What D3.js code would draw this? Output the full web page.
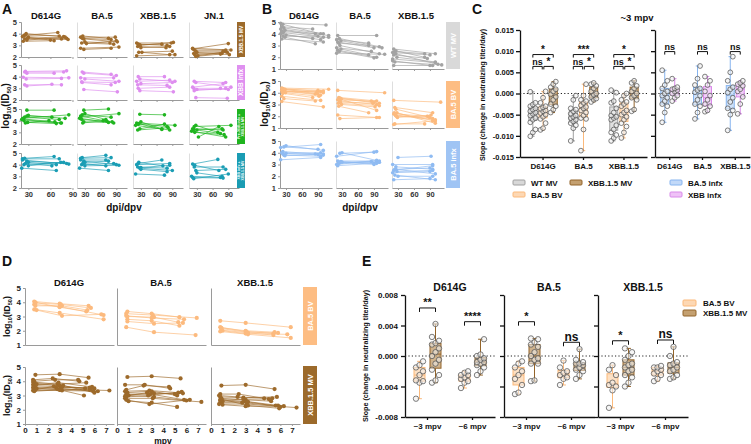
<!DOCTYPE html>
<html><head><meta charset="utf-8">
<script src="https://cdn.jsdelivr.net/npm/d3@7"></script>
<style>
body{margin:0;background:#fff}
svg{display:block}
text{font-family:"Liberation Sans",Arial,Helvetica,sans-serif;font-weight:bold}
</style>
</head><body>
<svg id="fig" width="751" height="444"></svg>
<script>
// ---------------- DATA ----------------
// Panel A: lines [dpi1, log10ID50_1, dpi2, log10ID50_2], per column (D614G, BA.5, XBB.1.5, JN.1)
const A_COLS = ["D614G", "BA.5", "XBB.1.5", "JN.1"];
const A_GROUPS = [["XBB.1.5 MV"], ["XBB infx"], ["Pre-XBB infx +", "XBB.1.5 MV"], ["XBB infx +", "XBB.1.5 MV"]];
const A_XBBMV = [
  [[24,3.85,70,4.1],[27,4.0,78,3.75],[22,3.75,82,3.6],[30,3.7,60,3.45],[25,3.55,75,3.55],[28,3.45,80,3.7],[23,3.35,65,3.4],[26,3.9,72,3.8],[29,3.6,84,3.5]],
  [[22,3.7,88,3.7],[25,3.6,80,3.5],[28,3.55,92,3.3],[30,3.3,78,3.2],[24,3.2,85,3.1],[33,3.15,90,3.4],[22,2.75,95,2.85],[28,2.65,80,2.75],[26,3.8,75,3.6]],
  [[22,3.2,88,3.2],[25,3.1,80,3.0],[28,3.0,92,3.25],[30,2.8,85,2.9],[24,2.9,78,2.8],[26,2.4,90,2.5],[32,2.4,85,2.2],[22,2.1,95,2.2],[28,3.05,70,3.1]],
  [[22,2.7,90,3.15],[25,2.6,85,2.6],[28,2.5,80,2.5],[30,2.4,92,2.2],[24,2.3,88,2.4],[26,2.2,78,2.3],[32,2.1,85,2.45],[22,2.75,95,2.6],[28,2.05,75,2.25]]
];
const A_XBBINF = [
  [[25,4.4,78,4.4],[28,4.3,65,4.3],[23,3.95,85,3.9],[27,3.8,75,3.85],[25,3.3,75,3.3],[28,3.2,62,3.35],[26,4.45,82,4.5]],
  [[25,4.4,80,4.2],[28,4.3,90,4.1],[22,3.9,85,3.9],[30,3.8,95,3.6],[25,3.5,80,3.3],[28,2.9,92,2.7],[24,3.55,88,3.5]],
  [[25,4.0,75,4.0],[28,3.8,95,3.6],[22,3.6,85,3.7],[30,3.4,90,3.5],[25,3.0,85,3.1],[28,2.8,92,2.7],[24,3.3,80,3.25]],
  [[25,3.6,85,3.5],[28,3.5,95,3.1],[22,3.1,80,3.4],[30,2.9,90,2.9],[25,2.8,85,3.0],[28,2.2,88,2.15],[24,3.0,75,3.0]]
];
const A_PREXBB = [
  [[28,4.9,65,4.9],[23,4.2,85,4.5],[25,4.3,72,4.1],[28,4.4,62,4.3],[21,4.1,75,3.8],[29,3.85,68,3.75],[24,4.0,74,3.8],[26,3.8,58,4.0],[22,4.15,66,3.9],[30,4.45,80,4.2]],
  [[28,4.9,75,5.0],[22,4.3,95,4.6],[25,4.5,80,4.3],[30,4.6,70,4.1],[20,4.2,85,3.8],[28,3.9,75,3.85],[24,4.1,82,3.9],[26,3.8,65,4.0],[22,4.4,72,3.95]],
  [[28,4.55,75,4.5],[22,3.8,95,3.6],[25,3.7,80,3.5],[30,3.9,70,3.3],[20,3.6,85,3.2],[28,3.3,75,3.7],[24,3.2,82,3.4],[26,3.75,70,3.25]],
  [[25,3.5,95,3.6],[22,3.3,80,3.2],[28,3.6,70,3.0],[30,3.2,75,2.9],[20,3.1,85,2.6],[33,2.6,72,3.5],[24,3.25,78,3.3],[26,3.0,82,2.8]]
];
const A_XBBINF_MV = [
  [[25,4.55,65,4.7],[22,4.5,72,4.5],[28,4.3,82,4.1],[30,4.2,68,4.0],[21,3.7,68,3.5],[24,4.0,78,4.2],[26,4.1,62,3.9],[30,3.9,74,4.2],[22,4.4,85,4.05]],
  [[25,4.6,70,4.8],[22,4.55,80,4.6],[28,4.3,90,4.0],[30,4.2,75,4.3],[20,3.7,75,3.5],[24,4.0,85,4.1],[26,4.1,70,3.9],[30,3.9,95,3.95],[22,4.4,70,4.4]],
  [[25,4.1,70,4.4],[22,4.0,85,4.1],[28,3.7,90,3.5],[30,3.6,80,3.4],[20,3.2,75,3.1],[24,3.8,80,3.7],[26,4.2,72,3.9],[30,3.75,85,3.95]],
  [[22,4.05,70,4.45],[25,3.8,80,3.8],[28,3.5,85,3.6],[30,3.3,78,3.0],[20,3.0,75,2.9],[24,2.8,90,3.2],[26,3.95,72,3.5],[22,2.9,80,2.85]]
];
const A_Y_TICKS = [2, 3, 4, 5];
const X_DAY_TICKS = [30, 60, 90];

// Panel B
const B_COLS = ["D614G", "BA.5", "XBB.1.5"];
const B_GROUPS = ["WT MV", "BA.5 BV", "BA.5 infx"];
const B_WTMV = [
  [[20,4.9,105,4.75],[24,4.8,95,4.0],[22,4.6,80,4.4],[26,4.5,100,4.0],[20,4.4,110,3.85],[28,4.3,90,3.8],[22,4.2,85,4.0],[25,4.1,100,3.7],[20,4.0,80,3.6],[30,3.9,95,3.5],[24,3.8,110,3.7],[22,3.55,100,3.3],[28,3.7,85,3.15]],
  [[22,3.85,95,3.85],[25,3.6,100,2.9],[20,3.5,80,3.2],[28,3.4,105,2.8],[22,3.3,90,2.8],[24,3.2,80,3.0],[26,3.0,100,2.3],[20,2.8,85,2.5],[22,2.6,95,2.0],[25,2.5,90,1.95],[20,2.35,110,2.25],[28,2.7,80,2.2]],
  [[22,2.7,100,2.3],[24,2.5,80,2.3],[20,2.4,90,2.2],[26,2.3,105,1.4],[22,2.2,85,1.9],[28,2.0,100,1.6],[20,1.7,90,1.3],[24,1.6,112,1.35],[22,1.3,95,1.3],[26,2.55,80,2.0],[20,1.85,100,1.55]]
];
const B_BA5BV = [
  [[22,4.4,110,4.3],[24,4.35,95,4.1],[26,4.3,90,4.2],[28,4.25,100,4.0],[22,4.2,85,3.9],[25,4.15,95,3.8],[27,4.1,88,4.05],[23,4.05,100,4.15],[29,4.0,92,3.7],[24,3.95,80,3.6],[22,3.7,95,3.35],[26,3.5,85,3.3],[22,3.25,100,2.8],[28,4.3,90,3.9]],
  [[22,4.2,110,4.0],[24,3.6,95,3.3],[26,3.55,90,3.2],[28,3.5,100,3.1],[22,3.4,85,3.3],[25,3.3,95,3.0],[27,3.2,88,3.1],[23,3.1,100,2.9],[29,3.0,92,2.8],[24,2.85,80,2.3],[22,2.1,95,1.9],[26,1.8,100,1.9],[28,3.45,95,2.5]],
  [[22,3.35,110,3.2],[24,2.75,95,2.3],[26,2.6,90,1.9],[28,2.3,100,1.4],[22,2.2,85,2.0],[25,2.1,95,1.8],[27,2.0,88,1.95],[23,2.3,100,1.6],[29,1.9,92,2.1],[24,1.35,80,1.35],[22,1.3,95,1.6],[26,2.05,100,1.7]]
];
const B_BA5INF = [
  [[20,4.45,95,4.7],[26,4.5,90,4.3],[30,4.6,100,4.2],[22,4.0,95,4.0],[24,3.9,100,3.9],[26,3.8,95,3.7],[28,3.75,90,3.85],[24,4.1,85,3.9],[20,3.4,95,3.6],[30,3.95,100,3.8]],
  [[20,3.7,95,4.1],[26,3.95,90,4.05],[30,4.0,100,3.3],[22,3.3,95,3.3],[24,3.2,100,3.2],[26,3.15,95,3.1],[28,3.25,90,3.0],[24,3.1,85,3.25],[20,3.0,95,3.35],[30,3.2,100,3.2],[22,2.9,90,3.1]],
  [[30,3.6,92,3.7],[20,3.0,95,3.0],[26,2.6,90,2.7],[22,2.5,95,2.9],[24,2.6,100,2.2],[28,2.4,95,2.5],[20,2.3,90,2.4],[24,2.1,100,1.7],[30,2.0,95,2.0],[22,1.7,90,1.8],[26,2.8,95,2.6]]
];
const B_Y_TICKS = [1, 2, 3, 4, 5];

// Panel C: slopes (change in neutralizing titer/day), ~3 mpv
const C_CATS = ["D614G", "BA.5", "XBB.1.5"];
const C_LEFT_GROUPS = ["WT MV", "BA.5 BV", "XBB.1.5 MV"];
const C_RIGHT_GROUPS = ["BA.5 infx", "XBB infx"];
const C_WT = [
  [0.0004,-0.0022,-0.0026,-0.0030,-0.0035,-0.0038,-0.0042,-0.0045,-0.0048,-0.0052,-0.0058,-0.0062,-0.0068,-0.0085,-0.0092,-0.0101],
  [-0.0005,-0.0015,-0.0035,-0.0038,-0.0042,-0.0048,-0.0052,-0.0055,-0.0058,-0.0062,-0.0066,-0.0070,-0.0075,-0.0082,-0.0112],
  [0.0008,0.0002,-0.0018,-0.0022,-0.0035,-0.0045,-0.0052,-0.0055,-0.0058,-0.0062,-0.0075,-0.0085,-0.0092,-0.0098,-0.0105,-0.0112]
];
const C_BV = [
  [0.0005,-0.0010,-0.0022,-0.0030,-0.0033,-0.0036,-0.0040,-0.0042,-0.0046,-0.0050,-0.0055,-0.0060,-0.0070,-0.0082,-0.0086],
  [0.0022,-0.0005,-0.0015,-0.0018,-0.0022,-0.0028,-0.0032,-0.0035,-0.0040,-0.0045,-0.0052,-0.0058,-0.0060,-0.0085,-0.0135],
  [0.0000,-0.0005,-0.0015,-0.0020,-0.0025,-0.0030,-0.0040,-0.0045,-0.0050,-0.0055,-0.0062,-0.0070,-0.0078,-0.0092,-0.0105]
];
const C_MV = [
  [0.0028,0.0022,0.0015,0.0010,0.0005,-0.0002,-0.0008,-0.0015,-0.0025,-0.0030,-0.0038,-0.0045],
  [0.0025,0.0022,0.0018,0.0012,0.0005,0.0000,-0.0003,-0.0008,-0.0012,-0.0015,-0.0020],
  [0.0030,0.0025,0.0018,0.0012,0.0005,0.0000,-0.0005,-0.0010,-0.0015,-0.0038,-0.0042]
];
const C_BA5INF = [
  [0.0055,0.0030,0.0020,0.0012,0.0005,0.0000,-0.0005,-0.0010,-0.0018,-0.0025,-0.0030,-0.0045,-0.0068],
  [0.0065,0.0035,0.0020,0.0012,0.0008,0.0003,-0.0005,-0.0015,-0.0025,-0.0030,-0.0045,-0.0060],
  [0.0087,0.0050,0.0030,0.0015,0.0010,0.0002,-0.0010,-0.0020,-0.0035,-0.0040,-0.0050,-0.0087]
];
const C_XBBINF = [
  [0.0035,0.0015,0.0012,0.0010,0.0008,0.0005,0.0000,-0.0005,-0.0010,-0.0018],
  [0.0040,0.0030,0.0020,0.0005,-0.0005,-0.0015,-0.0025,-0.0030,-0.0040,-0.0043],
  [0.0030,0.0025,0.0022,0.0018,0.0010,0.0005,-0.0008,-0.0025,-0.0048]
];
const C_Y_TICKS = [-0.015, -0.010, -0.005, 0, 0.005, 0.010, 0.015];
const C_SIG_TOP = ["*", "***", "*"];
const C_SIG_LOW = [["ns", "*"], ["ns", "*"], ["ns", "*"]];
const C_SIG_RIGHT = ["ns", "ns", "ns"];

// Panel D: [mpv, log10ID50] per subject
const D_COLS = ["D614G", "BA.5", "XBB.1.5"];
const D_GROUPS = ["BA.5 BV", "XBB.1.5 MV"];
const D_BA5BV = [
  [[[0.8,4.05],[3.0,3.9],[5.5,3.75]],[[0.9,3.95],[3.1,3.85],[5.7,3.6]],[[0.8,3.85],[3.0,3.7],[6.8,3.1]],[[0.9,3.75],[3.2,3.75],[5.4,3.45]],[[0.8,3.5],[3.0,3.25],[6.8,2.8]],[[1.0,3.45],[3.2,3.05],[6.6,3.15]],[[0.9,4.0],[3.0,3.65],[5.3,3.35]]],
  [[[0.9,3.35],[3.0,3.2],[5.4,2.95]],[[0.8,3.2],[3.1,3.1],[6.9,2.9]],[[0.8,3.05],[3.0,2.9],[5.8,2.8]],[[0.9,3.0],[3.2,2.95],[5.3,2.6]],[[0.9,2.8],[3.0,2.7],[5.4,2.35]],[[0.9,2.65],[3.2,2.5],[5.7,2.55]],[[0.8,2.25],[3.2,1.9],[6.8,1.7]]],
  [[[0.8,2.7],[3.0,2.55],[6.9,2.25]],[[0.8,2.25],[3.0,1.95],[5.4,1.8]],[[0.9,2.15],[3.1,1.9],[5.8,1.85]],[[0.9,2.05],[3.2,1.85],[5.4,1.7]],[[1.0,2.0],[3.0,1.8],[6.6,1.75]],[[0.8,1.95],[3.2,1.75],[6.9,1.5]],[[0.9,2.2],[3.0,2.0],[5.5,1.9]]]
];
const D_XBBMV = [
  [[[0.9,4.45],[3.0,4.5],[5.5,4.25]],[[0.7,4.1],[2.4,4.2],[4.7,4.0]],[[0.8,4.0],[2.6,4.1],[4.6,4.1]],[[0.7,3.95],[2.8,3.8],[5.3,3.9]],[[0.8,3.85],[3.0,3.7],[5.2,3.5]],[[0.7,3.75],[2.9,3.9],[5.8,3.6]],[[0.9,3.7],[3.2,3.6],[6.0,3.5]],[[0.8,3.6],[2.7,3.55],[5.6,3.55]],[[0.7,3.55],[3.1,3.5],[5.9,3.3]],[[1.0,3.5],[3.0,3.4],[5.1,3.0]],[[0.8,3.45],[2.8,3.45],[7.3,3.35]],[[0.7,3.35],[3.2,3.35],[6.3,3.3]],[[0.9,3.4],[2.5,3.65],[5.7,3.45]],[[1.0,3.8],[3.3,3.7],[6.0,3.2]],[[0.8,3.3],[3.0,3.4],[5.6,3.4]]],
  [[[0.9,4.3],[3.0,4.35],[5.5,4.2]],[[0.7,3.75],[2.4,3.75],[4.6,3.5]],[[0.8,3.4],[2.3,3.7],[4.5,3.6]],[[0.7,3.3],[2.8,3.35],[5.3,3.2]],[[0.9,3.2],[3.0,3.3],[5.2,3.0]],[[0.8,3.1],[2.9,3.1],[5.8,2.7]],[[1.0,3.0],[3.2,2.9],[6.0,2.65]],[[0.8,2.9],[2.7,3.0],[5.6,3.25]],[[0.7,2.8],[3.1,2.8],[7.3,2.55]],[[1.0,2.6],[3.0,2.5],[5.2,2.2]],[[0.8,2.7],[2.8,2.4],[6.3,2.7]],[[0.9,3.05],[3.2,3.15],[5.7,3.15]],[[0.7,2.95],[2.6,3.2],[5.0,3.1]]],
  [[[0.9,3.7],[3.0,3.75],[5.5,3.45]],[[0.8,3.1],[2.4,3.1],[4.6,2.8]],[[0.7,3.0],[2.3,2.9],[5.3,2.8]],[[0.8,2.9],[2.8,2.85],[5.7,2.9]],[[0.9,2.8],[3.0,2.7],[5.2,2.6]],[[0.8,2.7],[2.9,2.6],[5.8,2.3]],[[1.0,2.6],[3.2,2.55],[6.0,2.2]],[[0.8,2.5],[2.7,2.5],[5.6,2.3]],[[0.7,2.4],[3.1,2.4],[7.4,2.15]],[[1.0,2.35],[3.0,2.25],[6.3,2.25]],[[0.8,2.65],[2.8,2.75],[5.0,2.75]],[[0.9,2.75],[3.2,2.3],[5.9,2.1]]]
];
const D_X_TICKS = [0, 1, 2, 3, 4, 5, 6, 7];

// Panel E: slopes per variant [D614G, BA.5, XBB.1.5]
const E_CATS = ["D614G", "BA.5", "XBB.1.5"];
const E_TIMES = ["~3 mpv", "~6 mpv"];
const E_GROUPS = ["BA.5 BV", "XBB.1.5 MV"];
const E_BV_3 = [
  [-0.0007,-0.0012,-0.0015,-0.0020,-0.0025,-0.0032,-0.0033,-0.0035,-0.0056],
  [-0.0007,-0.0010,-0.0015,-0.0020,-0.0025,-0.0030,-0.0038,-0.0048,-0.0050],
  [-0.0012,-0.0018,-0.0025,-0.0035,-0.0038,-0.0040,-0.0045,-0.0068]
];
const E_MV_3 = [
  [0.0042,0.0025,0.0020,0.0017,0.0015,0.0010,0.0005,0.0000,-0.0005,-0.0010,-0.0018,-0.0025,-0.0032,-0.0035],
  [0.0023,0.0022,0.0018,0.0015,0.0012,0.0005,0.0000,-0.0003,-0.0005,-0.0010,-0.0010,-0.0032,-0.0033],
  [0.0010,0.0005,0.0000,-0.0005,-0.0010,-0.0012,-0.0015,-0.0018,-0.0020,-0.0025,-0.0028,-0.0035,-0.0040]
];
const E_BV_6 = [
  [-0.0020,-0.0022,-0.0025,-0.0025,-0.0028,-0.0030,-0.0033,-0.0035,-0.0042],
  [-0.0006,-0.0015,-0.0020,-0.0022,-0.0025,-0.0028,-0.0030,-0.0038],
  [-0.0013,-0.0015,-0.0015,-0.0018,-0.0020,-0.0023,-0.0025,-0.0030,-0.0033]
];
const E_MV_6 = [
  [0.0022,0.0002,0.0000,-0.0003,-0.0005,-0.0008,-0.0008,-0.0010,-0.0012,-0.0015,-0.0020,-0.0025],
  [0.0009,-0.0005,-0.0008,-0.0010,-0.0010,-0.0012,-0.0015,-0.0018,-0.0020,-0.0025,-0.0030],
  [0.0012,0.0000,-0.0008,-0.0010,-0.0012,-0.0015,-0.0018,-0.0020,-0.0025,-0.0028,-0.0030]
];
const E_Y_TICKS = [-0.008, -0.004, 0, 0.004, 0.008];
const E_SIG = [["**", "****"], ["*", "ns"], ["*", "ns"]];

// ---------------- STYLE / LAYOUT ----------------
const COL = {
  brown: "#a06c2c", pink: "#de8eef", green: "#20b520", teal: "#1a9db4",
  grey: "#a3a3a3", orange: "#fcba7e", blue: "#8fbbf2"
};
const svg = d3.select("#fig");

function styleAxis(sel, line, txt, size, width) {
  sel.selectAll(".domain").attr("stroke", line).attr("stroke-width", width || 1);
  sel.selectAll(".tick line").attr("stroke", line).attr("stroke-width", width || 1);
  sel.selectAll(".tick text").attr("fill", txt).attr("font-size", size)
    .attr("font-weight", "bold").attr("font-family", '"Liberation Sans",Arial,sans-serif');
}
function label(x, y, s, size, anchor, opts) {
  const t = svg.append("text").attr("x", x).attr("y", y).attr("font-size", size)
    .attr("text-anchor", anchor || "middle").attr("fill", (opts && opts.fill) || "#111").text(s);
  if (opts && opts.weight) t.attr("font-weight", opts.weight);
  return t;
}
function logLabel(x, y, size) {
  const t = svg.append("text").attr("transform", `translate(${x},${y}) rotate(-90)`)
    .attr("text-anchor", "middle").attr("font-size", size).attr("fill", "#111");
  t.append("tspan").text("log");
  t.append("tspan").attr("font-size", size * 0.62).attr("dy", size * 0.22).text("10");
  t.append("tspan").attr("dy", -size * 0.22).text("(ID");
  t.append("tspan").attr("font-size", size * 0.62).attr("dy", size * 0.22).text("50");
  t.append("tspan").attr("dy", -size * 0.22).text(")");
}
function vLabel(x, y, s, size) {
  svg.append("text").attr("transform", `translate(${x},${y}) rotate(-90)`)
    .attr("text-anchor", "middle").attr("font-size", size).attr("fill", "#111").text(s);
}
function strip(x, y, w, h, color, lines, size) {
  svg.append("rect").attr("x", x).attr("y", y).attr("width", w).attr("height", h).attr("fill", color);
  const t = svg.append("text").attr("transform", `translate(${x + w / 2},${y + h / 2}) rotate(-90)`)
    .attr("text-anchor", "middle").attr("fill", "#fff").attr("font-size", size);
  const lh = size * 1.15;
  lines.forEach((s, i) => t.append("tspan").attr("x", 0)
    .attr("dy", i === 0 ? (-(lines.length - 1) / 2 * lh + size * 0.36) : lh).text(s));
}
function pairPanel(lines, xs, ys, color, r) {
  const g = svg.append("g");
  lines.forEach(l => {
    const pts = Array.isArray(l[0]) ? l : [[l[0], l[1]], [l[2], l[3]]];
    g.append("path").attr("d", d3.line().x(p => xs(p[0])).y(p => ys(p[1]))(pts))
      .attr("fill", "none").attr("stroke", color).attr("stroke-width", 0.9).attr("stroke-opacity", 0.75);
    g.selectAll(null).data(pts).enter().append("circle")
      .attr("cx", p => xs(p[0])).attr("cy", p => ys(p[1])).attr("r", r).attr("fill", color);
  });
}

// ---------------- PANEL A ----------------
label(2, 14, "A", 14, "start");
const A_DATA = [A_XBBMV, A_XBBINF, A_PREXBB, A_XBBINF_MV];
const A_COLORS = [COL.brown, COL.pink, COL.green, COL.teal];
const A_STRIP_COLORS = ["#9c6a2b", "#df90f0", "#1fb41f", "#1a9cb3"];
const A_STRIP_SIZE = [5, 6.5, 3.6, 3.6];
const A_X0 = [21, 77, 133, 189], A_W = 50, A_Y0 = [22, 65, 109, 153], A_H = 35;
A_COLS.forEach((c, j) => label(A_X0[j] + 25, 19, c, 9.5));
A_DATA.forEach((rowData, i) => {
  const ys = d3.scaleLinear().domain([2, 5]).range([A_Y0[i] + A_H, A_Y0[i]]);
  rowData.forEach((lines, j) => {
    const x0 = A_X0[j];
    const xs = j === 0 ? d3.scaleLinear().domain([20, 88]).range([x0, x0 + A_W])
                       : d3.scaleLinear().domain([15, 110.4]).range([x0, x0 + A_W]);
    const ya = svg.append("g").attr("transform", `translate(${x0},0)`)
      .call(d3.axisLeft(ys).tickValues(A_Y_TICKS).tickSize(j === 0 ? 2 : 0).tickPadding(2)
        .tickFormat(j === 0 ? d3.format("d") : ""));
    styleAxis(ya, j === 0 ? "#9a9a9a" : "#dedede", "#333", 7.5);
    const xa = svg.append("g").attr("transform", `translate(0,${A_Y0[i] + A_H})`)
      .call(d3.axisBottom(xs).tickValues(X_DAY_TICKS).tickSize(2).tickSizeOuter(0).tickPadding(2)
        .tickFormat(i === 3 ? d3.format("d") : ""));
    styleAxis(xa, "#9a9a9a", "#333", 7.5);
    pairPanel(lines, xs, ys, A_COLORS[i], 1.8);
  });
  strip(237, A_Y0[i], 8, A_H, A_STRIP_COLORS[i], A_GROUPS[i], A_STRIP_SIZE[i]);
});
logLabel(9, 106, 10);
label(124, 211, "dpi/dpv", 10);

// ---------------- PANEL B ----------------
label(262, 14, "B", 14, "start");
const B_DATA = [B_WTMV, B_BA5BV, B_BA5INF];
const B_COLORS = [COL.grey, COL.orange, COL.blue];
const B_STRIP_COLORS = ["#d9d9d9", "#fdbd83", "#9fc4f4"];
const B_X0 = [280, 336, 392], B_W = 52, B_Y0 = [22, 81, 141], B_H = 47;
B_COLS.forEach((c, j) => label(B_X0[j] + 24, 19, c, 9.5));
B_DATA.forEach((rowData, i) => {
  const ys = d3.scaleLinear().domain([1, 5]).range([B_Y0[i] + B_H, B_Y0[i]]);
  rowData.forEach((lines, j) => {
    const x0 = B_X0[j];
    const xs = d3.scaleLinear().domain([18.75, 116.3]).range([x0, x0 + B_W]);
    const ya = svg.append("g").attr("transform", `translate(${x0},0)`)
      .call(d3.axisLeft(ys).tickValues(B_Y_TICKS).tickSize(j === 0 ? 2 : 0).tickPadding(2)
        .tickFormat(j === 0 ? d3.format("d") : ""));
    styleAxis(ya, j === 0 ? "#9a9a9a" : "#dedede", "#333", 7.5);
    const xa = svg.append("g").attr("transform", `translate(0,${B_Y0[i] + B_H})`)
      .call(d3.axisBottom(xs).tickValues(X_DAY_TICKS).tickSize(2).tickSizeOuter(0).tickPadding(2)
        .tickFormat(i === 2 ? d3.format("d") : ""));
    styleAxis(xa, "#9a9a9a", "#333", 7.5);
    pairPanel(lines, xs, ys, B_COLORS[i], 1.8);
  });
  strip(446, B_Y0[i], 14, B_H, B_STRIP_COLORS[i], [B_GROUPS[i]], 7.5);
});
logLabel(268, 104, 10);
label(360, 211, "dpi/dpv", 10);

// ---------------- box plot helper ----------------
function boxGroup(vals, cx, bw, ys, stroke, fill, r) {
  const s = vals.slice().sort(d3.ascending);
  const q1 = d3.quantile(s, 0.25), q3 = d3.quantile(s, 0.75), med = d3.quantile(s, 0.5);
  const mn = s[0], mx = s[s.length - 1];
  const g = svg.append("g");
  g.append("line").attr("x1", cx).attr("x2", cx).attr("y1", ys(mx)).attr("y2", ys(q3)).attr("stroke", stroke).attr("stroke-width", 1);
  g.append("line").attr("x1", cx).attr("x2", cx).attr("y1", ys(q1)).attr("y2", ys(mn)).attr("stroke", stroke).attr("stroke-width", 1);
  [mn, mx].forEach(v => g.append("line").attr("x1", cx - bw * 0.22).attr("x2", cx + bw * 0.22)
    .attr("y1", ys(v)).attr("y2", ys(v)).attr("stroke", stroke).attr("stroke-width", 1));
  g.append("rect").attr("x", cx - bw / 2).attr("y", ys(q3)).attr("width", bw).attr("height", ys(q1) - ys(q3))
    .attr("fill", fill).attr("fill-opacity", 0.8).attr("stroke", stroke).attr("stroke-width", 1);
  g.append("line").attr("x1", cx - bw / 2).attr("x2", cx + bw / 2).attr("y1", ys(med)).attr("y2", ys(med))
    .attr("stroke", stroke).attr("stroke-width", 1);
  s.forEach((v, k) => {
    const off = ((k % 3) - 1) * bw * 0.32;
    g.append("circle").attr("cx", cx + off).attr("cy", ys(v)).attr("r", r)
      .attr("fill", "#eeeeee").attr("fill-opacity", 0.55).attr("stroke", "#555").attr("stroke-width", 0.75);
  });
}
function bracket(x1, x2, y, txt, size, drop, weight) {
  svg.append("path").attr("d", `M${x1},${y + drop}V${y}H${x2}V${y + drop}`)
    .attr("fill", "none").attr("stroke", "#111").attr("stroke-width", 1);
  const t = label((x1 + x2) / 2, y - 1.5, txt, size);
  t.attr("font-weight", weight || "normal");
}
const BOX_FILL = { grey: "#d8d8d8", orange: "#fdd8b4", brown: "#c4a070", blue: "#c2d9f8", pink: "#efc2f7" };

// ---------------- PANEL C ----------------
label(472, 14, "C", 14, "start");
label(637, 21, "~3 mpv", 9.5);
const yC = d3.scaleLinear().domain([-0.015, 0.015]).range([157, 30]);
const xCL = d3.scaleBand().domain(C_CATS).range([520, 647]).paddingInner(0.1).paddingOuter(0.12);
const xCR = d3.scaleBand().domain(C_CATS).range([655, 750]).paddingInner(0.1).paddingOuter(0.0);
const cay = svg.append("g").attr("transform", "translate(520,0)")
  .call(d3.axisLeft(yC).tickValues(C_Y_TICKS).tickFormat(d => d.toFixed(3)).tickSize(4).tickSizeOuter(0).tickPadding(2));
styleAxis(cay, "#111", "#111", 7.5, 1.3);
const cay2 = svg.append("g").attr("transform", "translate(655,0)")
  .call(d3.axisLeft(yC).tickValues(C_Y_TICKS).tickFormat("").tickSize(4).tickSizeOuter(0));
styleAxis(cay2, "#111", "#111", 7.5, 1.3);
[[xCL], [xCR]].forEach(([xb]) => {
  const ax = svg.append("g").attr("transform", "translate(0,157)")
    .call(d3.axisBottom(xb).tickSize(3).tickSizeOuter(0).tickPadding(3));
  styleAxis(ax, "#111", "#111", 8, 1.3);
});
svg.append("line").attr("x1", 520).attr("x2", 647).attr("y1", yC(0)).attr("y2", yC(0))
  .attr("stroke", "#222").attr("stroke-dasharray", "1.2,2.2");
svg.append("line").attr("x1", 655).attr("x2", 750).attr("y1", yC(0)).attr("y2", yC(0))
  .attr("stroke", "#222").attr("stroke-dasharray", "1.2,2.2");
const C_LEFT = [C_WT, C_BV, C_MV];
const C_LEFT_STY = [["#a0a0a0", BOX_FILL.grey], ["#fbb97b", BOX_FILL.orange], ["#93642a", BOX_FILL.brown]];
C_CATS.forEach((cat, ci) => {
  const cx = xCL(cat) + xCL.bandwidth() / 2;
  C_LEFT.forEach((arr, gi) => boxGroup(arr[ci], cx + (gi - 1) * 10.2, 8, yC, C_LEFT_STY[gi][0], C_LEFT_STY[gi][1], 2.4));
  bracket(cx - 10.2, cx + 10.2, yC(0.0092), C_SIG_TOP[ci], 10, 3);
  bracket(cx - 10.2, cx - 0.8, yC(0.0064), C_SIG_LOW[ci][0], 9, 3);
  bracket(cx + 0.8, cx + 10.2, yC(0.0064), C_SIG_LOW[ci][1], 10, 3);
});
const C_RIGHT = [C_BA5INF, C_XBBINF];
const C_RIGHT_STY = [["#86b4ef", BOX_FILL.blue], ["#d98ae9", BOX_FILL.pink]];
C_CATS.forEach((cat, ci) => {
  const cx = xCR(cat) + xCR.bandwidth() / 2;
  C_RIGHT.forEach((arr, gi) => boxGroup(arr[ci], cx + (gi - 0.5) * 10, 8, yC, C_RIGHT_STY[gi][0], C_RIGHT_STY[gi][1], 2.4));
  bracket(cx - 5, cx + 5, yC(0.0099), C_SIG_RIGHT[ci], 9, 3);
});
vLabel(485, 95, "Slope (change in neutralizing titer/day)", 7.2);
function legendItem(x, y, txt, stroke, fill) {
  svg.append("rect").attr("x", x).attr("y", y - 3).attr("width", 12).attr("height", 5).attr("rx", 1)
    .attr("fill", fill).attr("stroke", stroke).attr("stroke-width", 1);
  label(x + 18, y + 2.5, txt, 8, "start");
}
legendItem(513, 183, C_LEFT_GROUPS[0], C_LEFT_STY[0][0], C_LEFT_STY[0][1]);
legendItem(513, 195, C_LEFT_GROUPS[1], C_LEFT_STY[1][0], C_LEFT_STY[1][1]);
legendItem(570, 183, C_LEFT_GROUPS[2], C_LEFT_STY[2][0], C_LEFT_STY[2][1]);
legendItem(670, 183, C_RIGHT_GROUPS[0], C_RIGHT_STY[0][0], C_RIGHT_STY[0][1]);
legendItem(670, 195, C_RIGHT_GROUPS[1], C_RIGHT_STY[1][0], C_RIGHT_STY[1][1]);

// ---------------- PANEL D ----------------
label(2, 266, "D", 14, "start");
const D_DATA = [D_BA5BV, D_XBBMV];
const D_COLORS = [COL.orange, "#9d6a2b"];
const D_STRIP_COLORS = ["#fdbd83", "#9c6a2b"];
const D_X0 = [25, 117, 211], D_W = 89, D_Y0 = [288, 367], D_H = 57;
D_COLS.forEach((c, j) => label(D_X0[j] + 44, 286, c, 9.5));
D_DATA.forEach((rowData, i) => {
  const ys = d3.scaleLinear().domain([1, 5]).range([D_Y0[i] + D_H, D_Y0[i]]);
  rowData.forEach((lines, j) => {
    const x0 = D_X0[j];
    const xs = d3.scaleLinear().domain([0, 7.7]).range([x0, x0 + D_W]);
    const ya = svg.append("g").attr("transform", `translate(${x0},0)`)
      .call(d3.axisLeft(ys).tickValues(B_Y_TICKS).tickSize(j === 0 ? 2 : 0).tickPadding(2)
        .tickFormat(j === 0 ? d3.format("d") : ""));
    styleAxis(ya, "#9a9a9a", "#222", 8);
    const xa = svg.append("g").attr("transform", `translate(0,${D_Y0[i] + D_H})`)
      .call(d3.axisBottom(xs).tickValues(D_X_TICKS).tickSize(i === 1 ? 2 : 0).tickSizeOuter(0).tickPadding(1)
        .tickFormat(i === 1 ? d3.format("d") : ""));
    styleAxis(xa, "#9a9a9a", "#222", 8);
    pairPanel(lines, xs, ys, D_COLORS[i], 2.1);
  });
  strip(303, D_Y0[i] - 1, 14, D_H + 1, D_STRIP_COLORS[i], [D_GROUPS[i]], 7.5);
  logLabel(10, D_Y0[i] + D_H / 2, 9);
});
label(163, 443.5, "mpv", 8.5);

// ---------------- PANEL E ----------------
label(362, 266, "E", 14, "start");
const yE = d3.scaleLinear().domain([-0.008, 0.008]).range([417, 295]);
const E_X0 = [405, 504, 598], E_W = 90;
const E_STY = [["#fbb97b", BOX_FILL.orange], ["#93642a", BOX_FILL.brown]];
const E_BRACKET_Y = [[0.0063, 0.0045], [0.0045, 0.0018], [0.0020, 0.0021]];
E_CATS.forEach((cat, ci) => {
  const x0 = E_X0[ci];
  label(x0 + 45, 291, cat, 10.5);
  const xb = d3.scaleBand().domain(E_TIMES).range([x0, x0 + E_W]).paddingInner(0.1).paddingOuter(0.05);
  const ay = svg.append("g").attr("transform", `translate(${x0},0)`)
    .call(d3.axisLeft(yE).tickValues(E_Y_TICKS).tickFormat(ci === 0 ? (d => d.toFixed(3)) : "")
      .tickSize(4).tickSizeOuter(0).tickPadding(3));
  styleAxis(ay, "#111", "#111", 8, 1.3);
  const ax = svg.append("g").attr("transform", "translate(0,417)")
    .call(d3.axisBottom(xb).tickSize(3).tickSizeOuter(0).tickPadding(3));
  styleAxis(ax, "#111", "#111", 8, 1.3);
  svg.append("line").attr("x1", x0).attr("x2", x0 + E_W).attr("y1", yE(0)).attr("y2", yE(0))
    .attr("stroke", "#222").attr("stroke-dasharray", "1.2,2.2");
  const sets = [[E_BV_3, E_MV_3], [E_BV_6, E_MV_6]];
  E_TIMES.forEach((t, ti) => {
    const cx = xb(t) + xb.bandwidth() / 2;
    sets[ti].forEach((arr, gi) => boxGroup(arr[ci], cx + (gi - 0.5) * 16, 11, yE, E_STY[gi][0], E_STY[gi][1], 2.7));
    const sig = E_SIG[ci][ti];
    bracket(cx - 8, cx + 8, yE(E_BRACKET_Y[ci][ti]), sig, sig === "ns" ? 12 : 11, 4);
  });
});
vLabel(368, 356, "Slope (change in neutralizing titer/day)", 7.2);
function legendE(x, y, txt, stroke, fill) {
  svg.append("rect").attr("x", x).attr("y", y - 3).attr("width", 13).attr("height", 6).attr("rx", 1)
    .attr("fill", fill).attr("stroke", stroke).attr("stroke-width", 1);
  label(x + 20, y + 3, txt, 8, "start");
}
legendE(683, 303, E_GROUPS[0], E_STY[0][0], E_STY[0][1]);
legendE(683, 313, E_GROUPS[1], E_STY[1][0], E_STY[1][1]);
</script>
</body></html>
